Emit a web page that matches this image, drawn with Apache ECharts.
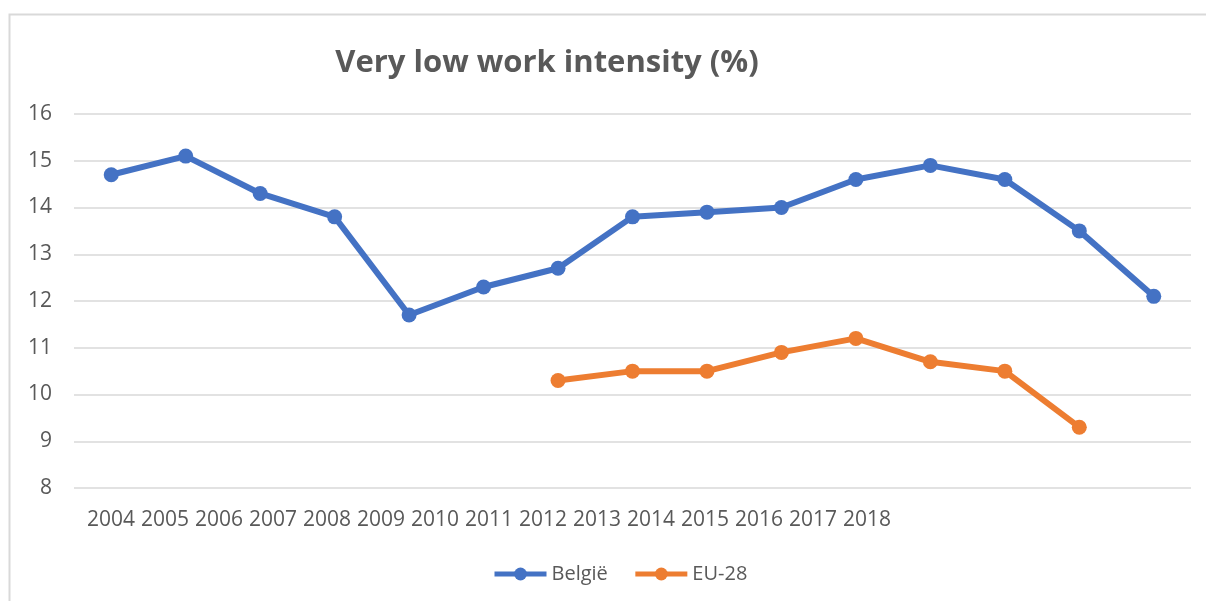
<!DOCTYPE html>
<html>
<head>
<meta charset="utf-8">
<script src="https://cdn.jsdelivr.net/npm/echarts@6/dist/echarts.min.js"></script>
<style>
html,body{margin:0;padding:0;background:#fff;}
#chart{width:1206px;height:601px;}
</style>
</head>
<body>
<div id="chart"></div>
<script>
const years = ['2004','2005','2006','2007','2008','2009','2010','2011','2012','2013','2014','2015','2016','2017','2018'];
const belgie = [14.7, 15.1, 14.3, 13.8, 11.7, 12.3, 12.7, 13.8, 13.9, 14.0, 14.6, 14.9, 14.6, 13.5, 12.1];
const eu28 = ['-', '-', '-', '-', '-', '-', 10.3, 10.5, 10.5, 10.9, 11.2, 10.7, 10.5, 9.3, '-'];
const yTicks = {min: 8, max: 16, interval: 1};

const chart = echarts.init(document.getElementById('chart'));
const txt = '#595959';
const font = '"Open Sans", sans-serif';
chart.setOption({
  animation: false,
  backgroundColor: '#fff',
  title: {
    text: 'Very low work intensity (%)',
    left: 542, top: 43, textAlign: 'center',
    textStyle: {fontFamily: font, fontSize: 31, fontWeight: 'bold', color: txt}
  },
  graphic: [{
    type: 'rect', silent: true, z: -10,
    shape: {x: 9.5, y: 14.5, width: 1300, height: 700},
    style: {fill: 'none', stroke: '#d9d9d9', lineWidth: 2}
  }],
  legend: {
    left: 487, top: 559,
    itemWidth: 52, itemHeight: 16, itemGap: 25,
    lineStyle: {width: 5},
    textStyle: {fontFamily: font, fontSize: 20, color: txt},
    data: ['België', 'EU-28']
  },
  grid: [
    {left: 74, right: 15, top: 114, bottom: 113},
    {left: 111, right: 339, top: 114, bottom: 113}
  ],
  xAxis: [
    {type: 'category', gridIndex: 0, data: years, boundaryGap: true,
     axisLine: {show: false}, axisTick: {show: false}, axisLabel: {show: false}},
    {type: 'category', gridIndex: 1, data: years, boundaryGap: false,
     axisLine: {show: false}, axisTick: {show: false},
     axisLabel: {margin: 22, fontFamily: font, fontSize: 21, color: txt, interval: 0}}
  ],
  yAxis: [
    {type: 'value', gridIndex: 0, min: yTicks.min, max: yTicks.max, interval: yTicks.interval,
     axisLine: {show: false}, axisTick: {show: false},
     axisLabel: {margin: 22, fontFamily: font, fontSize: 21, color: txt},
     splitLine: {lineStyle: {color: '#d9d9d9', width: 1.5}}},
    {type: 'value', gridIndex: 1, min: yTicks.min, max: yTicks.max, interval: yTicks.interval,
     show: false, splitLine: {show: false}}
  ],
  series: [
    {name: 'België', type: 'line', data: belgie, xAxisIndex: 0, yAxisIndex: 0,
     symbol: 'circle', symbolSize: 15, color: '#4472C4',
     lineStyle: {width: 6, color: '#4472C4'}, itemStyle: {color: '#4472C4'}},
    {name: 'EU-28', type: 'line', data: eu28, xAxisIndex: 0, yAxisIndex: 0,
     symbol: 'circle', symbolSize: 15, color: '#ED7D31',
     lineStyle: {width: 6, color: '#ED7D31'}, itemStyle: {color: '#ED7D31'}}
  ]
});
</script>
</body>
</html>
